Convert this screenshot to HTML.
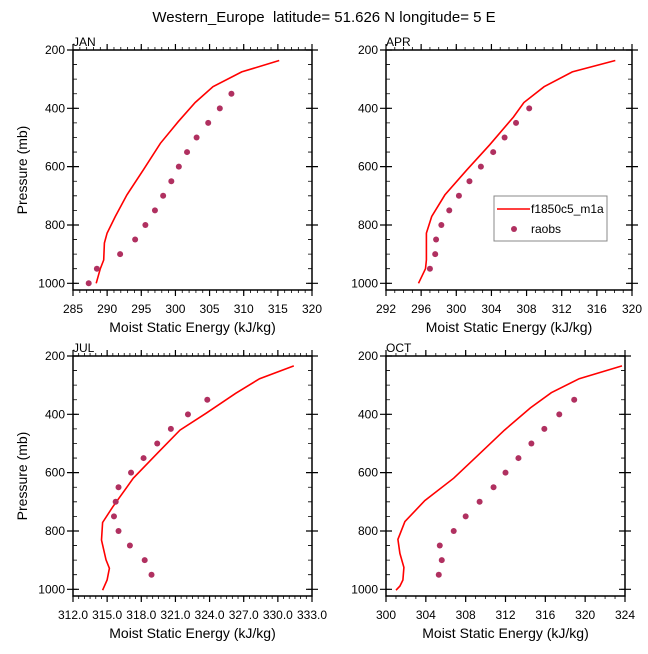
<!DOCTYPE html>
<html><head><meta charset="utf-8"><style>
html,body{margin:0;padding:0;background:#fff;}
svg text{font-family:"Liberation Sans",Arial,sans-serif;fill:#000;}
</style></head><body>
<svg id="chart" width="648" height="649" viewBox="0 0 648 649" xmlns="http://www.w3.org/2000/svg">
<text x="324" y="22" font-size="15" text-anchor="middle">Western_Europe&#160; latitude= 51.626 N longitude= 5 E</text>
</svg>
<script>
// ---- data ----
const janModelP = [236,275,326,380,446,520,611,697,771,828,862,920,950,1000];
const janModelX = [315.2,309.7,305.5,302.9,300.4,297.8,295.3,292.9,291.2,290.0,289.6,289.5,289.0,288.4];
const janObsP = [1000,950,900,850,800,750,700,650,600,550,500,450,400,350];
const janObsX = [287.3,288.5,291.9,294.1,295.6,297.0,298.2,299.4,300.5,301.7,303.1,304.8,306.5,308.2];

const aprModelP = [236,275,326,380,430,525,611,697,771,828,920,950,1000];
const aprModelX = [318.1,313.2,310.0,307.7,306.5,303.8,301.2,298.7,297.2,296.6,296.6,296.5,295.7];
const aprObsP = [950,900,850,800,750,700,650,600,550,500,450,400];
const aprObsX = [297.0,297.6,297.7,298.3,299.2,300.3,301.5,302.8,304.2,305.5,306.8,308.3];

const julModelP = [234,278,328,396,454,534,619,717,771,831,899,928,968,1003];
const julModelX = [331.4,328.4,326.3,323.7,321.4,319.4,317.3,315.5,314.6,314.5,314.9,315.2,315.0,314.6];
const julObsP = [350,400,450,500,550,600,650,700,750,800,850,900,950];
const julObsX = [323.8,322.1,320.6,319.4,318.2,317.1,316.0,315.75,315.6,316.0,317.0,318.3,318.9];

const octModelP = [234,278,326,378,454,545,619,696,768,829,877,925,968,989,1003];
const octModelX = [323.7,319.4,316.6,314.5,311.9,309.1,306.8,303.9,301.9,301.2,301.4,301.8,301.7,301.4,301.0];
const octObsP = [350,400,450,500,550,600,650,700,750,800,850,900,950];
const octObsX = [318.9,317.4,315.9,314.6,313.3,312.0,310.8,309.4,308.0,306.8,305.4,305.6,305.3];

const janTicks = [285,290,295,300,305,310,315,320];
const aprTicks = [292,296,300,304,308,312,316,320];
const julTicks = [312.0,315.0,318.0,321.0,324.0,327.0,330.0,333.0];
const octTicks = [300,304,308,312,316,320,324];
const pTicks = [200,400,600,800,1000];

const NS='http://www.w3.org/2000/svg';
const svg=document.getElementById('chart');
function mk(tag,attrs,parent){const e=document.createElementNS(NS,tag);for(const k in attrs)e.setAttribute(k,attrs[k]);(parent||svg).appendChild(e);return e;}

function panel(key,label,box,xmin,xmax,ticks,minorStep,dec,mP,mX,oP,oX,showY){
  const g=mk('g',{});
  
  
  const pmin=200,pmax=1023;
  const sx=v=>box.l+(v-xmin)/(xmax-xmin)*(box.r-box.l);
  const sy=p=>box.t+(p-pmin)/(pmax-pmin)*(box.b-box.t);
  let d='';
  for(let v=xmin;v<=xmax+1e-6;v+=minorStep){const x=sx(v);d+=`M${x},${box.b}v3M${x},${box.t}v-3`;}
  for(let p=250;p<=1000;p+=50){const y=sy(p);d+=`M${box.l},${y}h4M${box.r},${y}h-4`;}
  const mn=mk('path',{d:d,stroke:'#000','stroke-width':0.8,fill:'none'},g);
  
  
  let D='';
  ticks.forEach(v=>{const x=sx(v);D+=`M${x},${box.b}v6M${x},${box.t}v-6`;});
  pTicks.forEach(p=>{const y=sy(p);D+=`M${box.l-6},${y}h12M${box.r-6},${y}h12`;});
  const mj=mk('path',{d:D,stroke:'#000','stroke-width':1.2,fill:'none'},g);
  
  
  const fr=mk('rect',{x:box.l,y:box.t,width:box.r-box.l,height:box.b-box.t,fill:'none',stroke:'#000','stroke-width':1.5},g);
  
  
  ticks.forEach(v=>{
    const t=mk('text',{x:sx(v),y:box.b+23,'font-size':12,'text-anchor':'middle'},g);
    t.textContent=v.toFixed(dec);
    
    
  });
  pTicks.forEach(p=>{
    const t=mk('text',{x:box.l-8,y:sy(p)+4,'font-size':12,'text-anchor':'end'},g);
    t.textContent=p;
    
    
  });
  const xt=mk('text',{x:(box.l+box.r)/2,y:box.b+42,'font-size':14,'text-anchor':'middle'},g);
  xt.textContent='Moist Static Energy (kJ/kg)';
  
  
  if(showY){
    const cy=(box.t+box.b)/2;
    const yt=mk('text',{x:27,y:cy,'font-size':14,'text-anchor':'middle',transform:`rotate(-90 27 ${cy})`},g);
    yt.textContent='Pressure (mb)';
    
    
  }
  const lt=mk('text',{x:box.l,y:box.t-4,'font-size':12},g);
  lt.textContent=label;
  
  
  const pts=mP.map((p,i)=>sx(mX[i]).toFixed(1)+','+sy(p).toFixed(1)).join(' ');
  const ln=mk('polyline',{points:pts,fill:'none',stroke:'#ff0000','stroke-width':1.6},g);
  
  
  oP.forEach((p,i)=>{
    const c=mk('circle',{cx:sx(oX[i]),cy:sy(p),r:3,fill:'#b03060'},g);
    
    
  });
}
panel('jan','JAN',{l:73,r:312,t:50,b:290},285,320,janTicks,1,0,janModelP,janModelX,janObsP,janObsX,true);
panel('apr','APR',{l:386,r:632,t:50,b:290},292,320,aprTicks,1,0,aprModelP,aprModelX,aprObsP,aprObsX,false);
panel('jul','JUL',{l:73,r:312,t:356,b:596},312,333,julTicks,0.5,1,julModelP,julModelX,julObsP,julObsX,true);
panel('oct','OCT',{l:386,r:625,t:356,b:596},300,324,octTicks,1,0,octModelP,octModelX,octObsP,octObsX,false);

const lg=mk('g',{});


mk('rect',{x:494,y:196,width:113,height:45,fill:'#fff',stroke:'#888','stroke-width':1},lg);
const l1=mk('line',{x1:497,y1:209,x2:530,y2:209,stroke:'#ff0000','stroke-width':1.6},lg);


const t1=mk('text',{x:531,y:213,'font-size':12},lg);
t1.textContent='f1850c5_m1a';


const c2=mk('circle',{cx:514,cy:229,r:3,fill:'#b03060'},lg);


const t2=mk('text',{x:531,y:233,'font-size':12},lg);
t2.textContent='raobs';


</script>
</body></html>
